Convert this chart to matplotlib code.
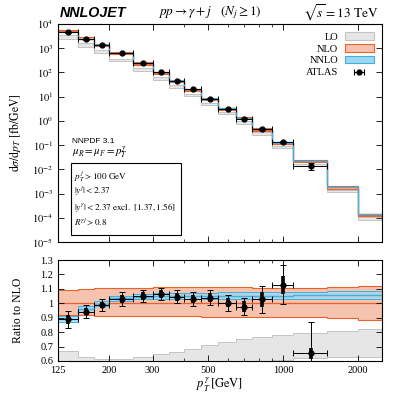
import numpy as np
import matplotlib
matplotlib.use("Agg")
import matplotlib.pyplot as plt
from matplotlib.patches import Patch, Rectangle

plt.rcParams['font.family'] = 'serif'
plt.rcParams['font.serif'] = ['Liberation Serif', 'DejaVu Serif']
plt.rcParams['mathtext.fontset'] = 'stix'

# bin edges in pT(gamma) [GeV]
edges = np.array([125, 150, 175, 200, 250, 300, 350, 400, 470, 550, 650,
                  750, 900, 1100, 1500, 2000, 2500])

# NLO central cross section [fb/GeV]
nlo = np.array([5175, 2516, 1407, 612, 233, 97.7, 44, 19.4, 8.0, 3.19, 1.28,
                0.44, 0.122, 0.0214, 1.8e-3, 1.33e-4])

# ratios to NLO
nlo_lo = np.array([0.917, 0.916, 0.914, 0.909, 0.909, 0.909, 0.909, 0.909, 0.908,
                   0.908, 0.907, 0.906, 0.905, 0.902, 0.895, 0.884])
nlo_hi = np.array([1.095, 1.102, 1.104, 1.108, 1.109, 1.11, 1.11, 1.11, 1.11,
                   1.11, 1.11, 1.108, 1.106, 1.105, 1.11, 1.117])
nnlo_c = np.array([0.89, 0.962, 0.998, 1.035, 1.045, 1.05, 1.05, 1.05, 1.05,
                   1.05, 1.05, 1.05, 1.053, 1.055, 1.057, 1.058])
nnlo_lo = np.array([0.868, 0.94, 0.978, 1.018, 1.027, 1.03, 1.028, 1.027, 1.027,
                    1.027, 1.027, 1.027, 1.028, 1.03, 1.032, 1.032])
nnlo_hi = np.array([0.912, 0.984, 1.018, 1.052, 1.062, 1.068, 1.07, 1.072, 1.074,
                    1.075, 1.076, 1.077, 1.078, 1.08, 1.085, 1.086])
lo_lo = np.array([0.45, 0.45, 0.46, 0.47, 0.49, 0.5, 0.52, 0.54, 0.56, 0.58,
                  0.59, 0.60, 0.61, 0.62, 0.625, 0.63])
lo_hi = np.array([0.67, 0.63, 0.615, 0.615, 0.63, 0.648, 0.665, 0.685, 0.71,
                  0.73, 0.75, 0.765, 0.78, 0.795, 0.81, 0.82])

# ATLAS data (ratio to NLO) for the first 14 bins
data_r = np.array([0.889, 0.942, 0.988, 1.03, 1.05, 1.064, 1.046, 1.03, 1.039,
                   1.004, 0.977, 1.027, 1.127, 0.653])
data_tot = np.array([0.058, 0.046, 0.04, 0.046, 0.044, 0.043, 0.046, 0.046, 0.054,
                     0.055, 0.06, 0.095, 0.135, 0.215])
data_stat = np.array([0.03, 0.026, 0.024, 0.027, 0.027, 0.027, 0.028, 0.028, 0.032,
                      0.033, 0.036, 0.05, 0.065, 0.04])

xticks = [125, 200, 300, 500, 1000, 2000]
xminor = [400, 600, 700, 800, 900]

c_lo_fill, c_lo_edge = '#e6e6e6', '#c4c4c4'
c_nlo_fill, c_nlo_edge = '#f5c3ae', '#e8622e'
c_nnlo_fill, c_nnlo_edge = '#9ed8f0', '#3eb0e2'

nd = len(data_r)
xc = 0.5 * (edges[:nd] + edges[1:nd + 1])
xerr = [xc - edges[:nd], edges[1:nd + 1] - xc]

fig = plt.figure(figsize=(3.97, 4.05), dpi=100)
ax = fig.add_axes([58 / 397, 1 - 242 / 405, 324 / 397, 218 / 405])
axr = fig.add_axes([58 / 397, 1 - 361 / 405, 324 / 397, 101 / 405])


def draw_bands(a, scale):
    a.stairs(lo_hi * scale, edges, baseline=lo_lo * scale, fill=True, color=c_lo_fill, lw=0)
    a.stairs(lo_hi * scale, edges, baseline=None, color=c_lo_edge, lw=0.7)
    a.stairs(lo_lo * scale, edges, baseline=None, color=c_lo_edge, lw=0.7)
    a.stairs(nlo_hi * scale, edges, baseline=nlo_lo * scale, fill=True, color=c_nlo_fill, lw=0)
    a.stairs(nlo_hi * scale, edges, baseline=None, color=c_nlo_edge, lw=0.8)
    a.stairs(nlo_lo * scale, edges, baseline=None, color=c_nlo_edge, lw=0.8)
    a.stairs(np.ones(len(nlo)) * scale, edges, baseline=None, color=c_nlo_edge, lw=0.9)
    a.stairs(nnlo_hi * scale, edges, baseline=nnlo_lo * scale, fill=True,
             color=c_nnlo_fill, alpha=0.75, lw=0)
    a.stairs(nnlo_hi * scale, edges, baseline=None, color=c_nnlo_edge, lw=0.7)
    a.stairs(nnlo_lo * scale, edges, baseline=None, color=c_nnlo_edge, lw=0.7)
    a.stairs(nnlo_c * scale, edges, baseline=None, color=c_nnlo_edge, lw=1.0)


def draw_data(a, scale):
    y = data_r * scale
    a.errorbar(xc, y, yerr=data_stat * scale, fmt='none', ecolor='k', elinewidth=2.6,
               capsize=0, zorder=5)
    a.errorbar(xc, y, xerr=xerr, yerr=data_tot * scale, fmt='o', color='k', ms=3.5,
               elinewidth=0.7, capsize=2, capthick=0.7, zorder=6)


# top panel
draw_bands(ax, nlo)
draw_data(ax, nlo[:nd])
ax.set_yscale('log')
ax.set_ylim(1e-5, 1e4)
ax.set_yticks([10.0 ** k for k in range(-5, 5)])
ax.set_yticklabels([r'$10^{%d}$' % k for k in range(-5, 5)])

# ratio panel
draw_bands(axr, 1.0)
draw_data(axr, 1.0)
axr.set_ylim(0.6, 1.3)
rt = [0.6, 0.7, 0.8, 0.9, 1.0, 1.1, 1.2, 1.3]
axr.set_yticks(rt)
axr.set_yticklabels(['0.6', '0.7', '0.8', '0.9', '1', '1.1', '1.2', '1.3'])

for a in (ax, axr):
    a.set_xscale('log')
    a.set_xlim(125, 2500)
    a.set_xticks(xticks)
    a.set_xticks(xminor, minor=True)
    a.tick_params(which='both', direction='in', top=True, right=True, labelsize=7.5)
    a.tick_params(which='major', length=4, width=0.6)
    a.tick_params(which='minor', length=2, width=0.5)
    for s in a.spines.values():
        s.set_linewidth(0.8)
ax.set_xticklabels([])
axr.set_xticklabels([str(v) for v in xticks])

ax.set_ylabel(r'$\mathrm{d}\sigma/\mathrm{d}p_T\ [\mathrm{fb/GeV}]$', fontsize=8.5)
ax.yaxis.set_label_coords(-0.108, 0.5)
axr.set_ylabel('Ratio to NLO', fontsize=8.5)
axr.yaxis.set_label_coords(-0.105, 0.5)
axr.set_xlabel(r'$p_T^\gamma\,[\mathrm{GeV}]$', fontsize=9, labelpad=1)

# legend
eb = ax.errorbar([np.nan], [np.nan], xerr=[1], fmt='o', color='k', ms=3.5,
                 elinewidth=0.8, capsize=2, capthick=0.8)
handles = [Patch(facecolor=c_lo_fill, edgecolor=c_lo_edge, lw=0.8),
           Patch(facecolor=c_nlo_fill, edgecolor=c_nlo_edge, lw=0.8),
           Patch(facecolor=c_nnlo_fill, edgecolor=c_nnlo_edge, lw=0.8),
           eb]
ax.legend(handles, ['LO', 'NLO', 'NNLO', 'ATLAS'], loc='upper right', frameon=False,
          markerfirst=False, fontsize=7.5, handlelength=2.8, handleheight=0.7,
          labelspacing=0.25, handletextpad=0.6, borderaxespad=0.4)

# annotations
ax.text(0.043, 0.46, 'NNPDF 3.1', transform=ax.transAxes, fontsize=6,
        family='Liberation Sans', va='center')
ax.text(0.043, 0.41, r'$\mu_R = \mu_F = p_T^\gamma$', transform=ax.transAxes,
        fontsize=7.8, va='center')
ax.add_patch(Rectangle((0.040, 0.032), 0.34, 0.332, transform=ax.transAxes,
                       fill=False, lw=0.8, ec='k'))
cuts = [r'$p_T^{\,j} > 100\ \mathrm{GeV}$',
        r'$|y^{j}| < 2.37$',
        r'$|y^{\gamma}| < 2.37\ \mathrm{excl.}\ [1.37, 1.56]$',
        r'$R^{\gamma j} > 0.8$']
for yy, s in zip([0.300, 0.234, 0.159, 0.093], cuts):
    ax.text(0.05, yy, s, transform=ax.transAxes, fontsize=6.6, va='center')

fig.text(60 / 397, 1 - 12.7 / 405, 'NNLOJET', family='Liberation Sans', weight='bold',
         style='italic', fontsize=10.3, va='center')
fig.text(158 / 397, 1 - 12.7 / 405,
         r'$pp \rightarrow \gamma + j\quad (N_j \geq 1)$', fontsize=9.5, va='center')
fig.text(378 / 397, 1 - 12.7 / 405, r'$\sqrt{s} = 13\ \mathrm{TeV}$', fontsize=9.5,
         va='center', ha='right')

fig.savefig('out.png', dpi=100)
